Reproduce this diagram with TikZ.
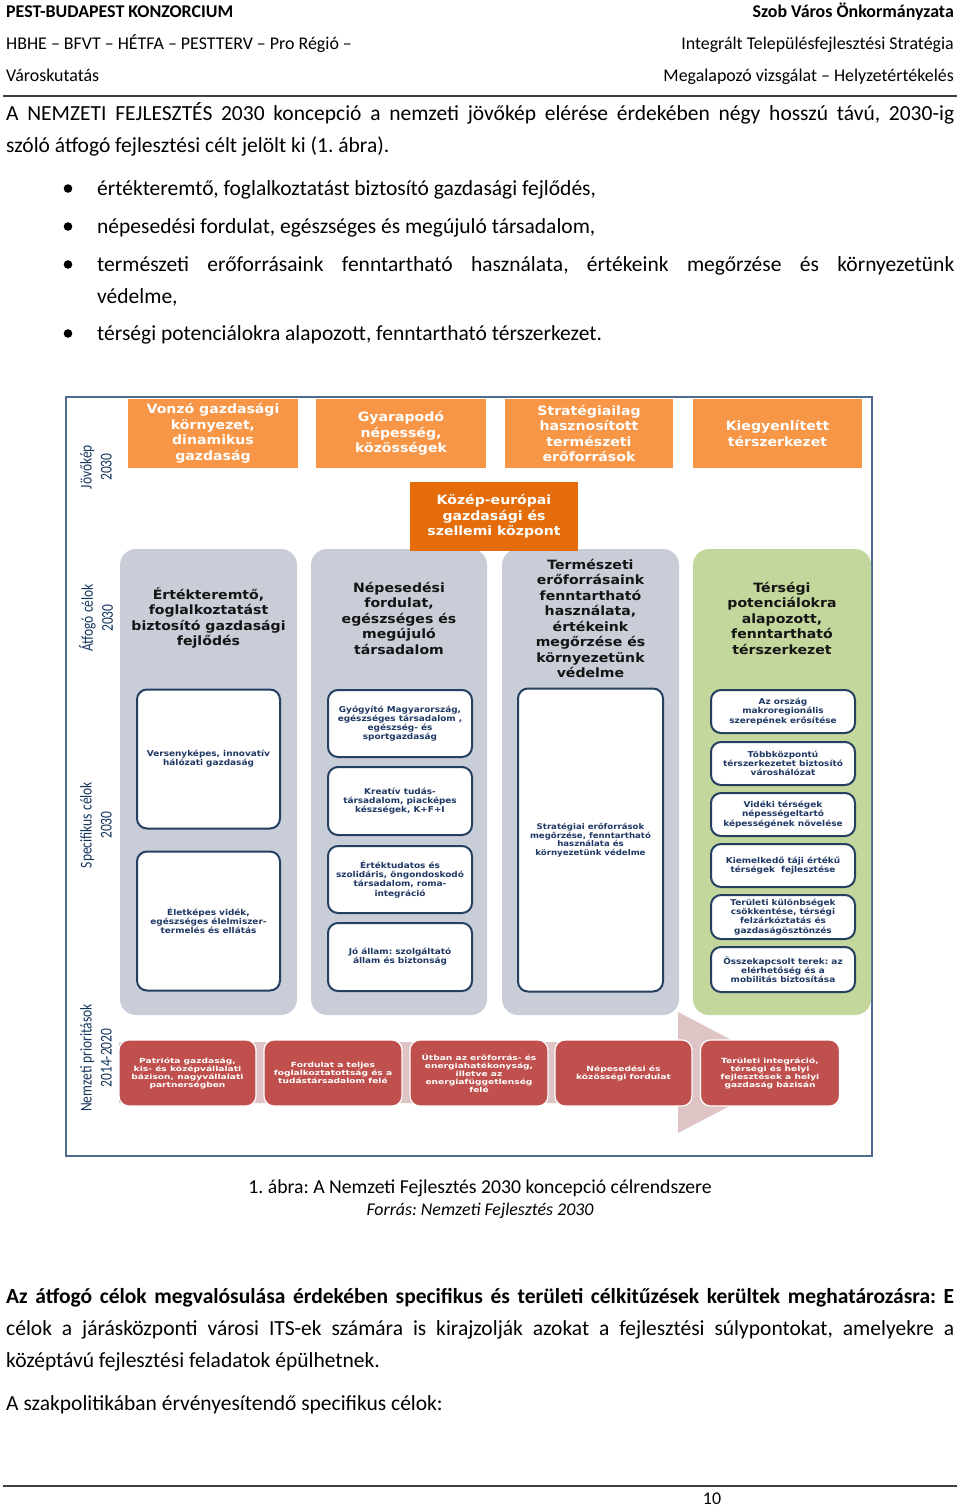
\documentclass[tikz,border=0pt]{standalone}
\usepackage{fontspec}
\setmainfont{Carlito}
\newfontfamily\dgf[FakeStretch=1.1]{DejaVu Sans}
\newfontfamily\dgr[FakeStretch=1.3]{DejaVu Sans}
\newfontfamily\lbf[FakeStretch=0.82]{Carlito}
\frenchspacing
\definecolor{orgc}{HTML}{F79646}
\definecolor{dorgc}{HTML}{E46C0A}
\definecolor{grayc}{HTML}{C8CDD8}
\definecolor{greenc}{HTML}{C3D69B}
\definecolor{redc}{HTML}{C0504D}
\definecolor{navyb}{HTML}{243F60}
\definecolor{navyt}{HTML}{1F3864}
\definecolor{lblc}{HTML}{17375E}
\definecolor{framec}{HTML}{4F6B8F}
\definecolor{arrowc}{HTML}{DEC4C5}
\definecolor{rulec}{HTML}{404040}
\tikzset{
  body/.style={anchor=base west, inner sep=0pt, font=\frenchspacing\fontsize{21.5}{26}\selectfont},
  hdr/.style={anchor=base west, inner sep=0pt, font=\frenchspacing\fontsize{17.9}{21}\selectfont},
  hdrr/.style={anchor=base east, inner sep=0pt, font=\frenchspacing\fontsize{17.9}{21}\selectfont},
  obox/.style={fill=orgc, text=white, align=center, inner sep=0pt, font=\dgf\bfseries\fontsize{12.8}{15.5}\selectfont},
  colbg/.style={fill=grayc, rounded corners=16pt, inner sep=0pt},
  colhead/.style={align=center, inner sep=0pt, text=black!92, font=\dgf\bfseries\fontsize{12.8}{15.5}\selectfont},
  wbox/.style={fill=white, draw=navyb, line width=2pt, rounded corners=10pt, align=center, inner sep=0pt, text=navyt, font=\frenchspacing\dgf\bfseries\fontsize{8.1}{9.2}\selectfont},
  rbox/.style={fill=redc, draw=white, line width=1.2pt, rounded corners=10pt, text=white, align=center, inner sep=0pt, font=\dgr\bfseries\fontsize{7}{8}\selectfont},
  lbl/.style={rotate=90, align=center, inner sep=0pt, text=lblc, font=\lbf\fontsize{16.5}{20}\selectfont},
}
\begin{document}
\begin{tikzpicture}[x=1pt,y=-1pt]
\useasboundingbox (0,0) rectangle (960,1508);
\fill[white] (0,0) rectangle (960,1508);
% header
\node[hdr] (hl1) at (6,17.5) {\bfseries PEST-BUDAPEST KONZORCIUM};
\node[hdr] (hl2) at (6,49.5) {HBHE – BFVT – HÉTFA – PESTTERV – Pro Régió –};
\node[hdr] (hl3) at (6,81.5) {Városkutatás};
\node[hdrr] (hr1) at (954,17.5) {\bfseries Szob Város Önkormányzata};
\node[hdrr] (hr2) at (954,49.5) {Integrált Településfejlesztési Stratégia};
\node[hdrr] (hr3) at (954,81.5) {Megalapozó vizsgálat – Helyzetértékelés};
\draw[rulec, line width=2pt] (3,96) -- (957,96);
% paragraph
\node[body] (t1) at (6,120) {\hbox to 948pt{A NEMZETI FEJLESZTÉS 2030 koncepció a nemzeti jövőkép elérése érdekében négy hosszú távú, 2030-ig}};
\node[body] (t2) at (6,152) {szóló átfogó fejlesztési célt jelölt ki (1. ábra).};
\fill (68,188.5) circle (4.3pt);
\fill (68,226.5) circle (4.3pt);
\fill (68,264.5) circle (4.3pt);
\fill (68,333.5) circle (4.3pt);
\node[body] (b1) at (97,195) {értékteremtő, foglalkoztatást biztosító gazdasági fejlődés,};
\node[body] (b2) at (97,233) {népesedési fordulat, egészséges és megújuló társadalom,};
\node[body] (b3) at (97,271) {\hbox to 857pt{természeti erőforrásaink fenntartható használata, értékeink megőrzése és környezetünk}};
\node[body] (b3b) at (97,303) {védelme,};
\node[body] (b4) at (97,340) {térségi potenciálokra alapozott, fenntartható térszerkezet.};
% figure frame
\draw[framec, line width=1.5pt] (66,397) rectangle (872,1156);
% top orange boxes
\node[obox, minimum width=170, minimum height=69] (o1) at (213,433.5) {Vonzó gazdasági\\környezet,\\dinamikus\\gazdaság};
\node[obox, minimum width=170, minimum height=69] (o2) at (401,433.5) {Gyarapodó\\népesség,\\közösségek};
\node[obox, minimum width=168, minimum height=69] (o3) at (589,433.5) {Stratégiailag\\hasznosított\\természeti\\erőforrások};
\node[obox, minimum width=169, minimum height=69] (o4) at (777.5,433.5) {Kiegyenlített\\térszerkezet};
% columns
\node[colbg, minimum width=177, minimum height=466] (c1) at (208.5,782) {};
\node[colbg, minimum width=176, minimum height=466] (c2) at (399,782) {};
\node[colbg, minimum width=177, minimum height=466] (c3) at (590.5,782) {};
\node[colbg, fill=greenc, minimum width=178, minimum height=466] (c4) at (782,782) {};
\node[obox, fill=dorgc, minimum width=168, minimum height=69] (ctr) at (494,516.5) {Közép-európai\\gazdasági és\\szellemi központ};
\node[colhead] (h1) at (208.5,618) {Értékteremtő,\\foglalkoztatást\\biztosító gazdasági\\fejlődés};
\node[colhead] (h2) at (399,618) {Népesedési\\fordulat,\\egészséges és\\megújuló\\társadalom};
\node[colhead] (h3) at (590.5,618.5) {Természeti\\erőforrásaink\\fenntartható\\használata,\\értékeink\\megőrzése és\\környezetünk\\védelme};
\node[colhead] (h4) at (782,618) {Térségi\\potenciálokra\\alapozott,\\fenntartható\\térszerkezet};
% white boxes col 1
\node[wbox, minimum width=143, minimum height=139] (w11) at (208.5,759) {Versenyképes, innovatív\\hálózati gazdaság};
\node[wbox, minimum width=143, minimum height=139] (w12) at (208.5,921) {Életképes vidék,\\egészséges élelmiszer-\\termelés és ellátás};
% col 2
\node[wbox, minimum width=144, minimum height=67] (w21) at (400,723.5) {Gyógyító Magyarország,\\egészséges társadalom ,\\egészség- és\\sportgazdaság};
\node[wbox, minimum width=144, minimum height=68] (w22) at (400,801) {Kreatív tudás-\\társadalom, piacképes\\készségek, K+F+I};
\node[wbox, minimum width=144, minimum height=67] (w23) at (400,879.5) {Értéktudatos és\\szolidáris, öngondoskodó\\társadalom, roma-\\integráció};
\node[wbox, minimum width=144, minimum height=68] (w24) at (400,957) {Jó állam: szolgáltató\\állam és biztonság};
% col 3
\node[wbox, minimum width=145, minimum height=303, font=\dgf\bfseries\fontsize{7.8}{8.5}\selectfont] (w31) at (590.5,840) {Stratégiai erőforrások\\megőrzése, fenntartható\\használata és\\környezetünk védelme};
% col 4
\node[wbox, minimum width=144, minimum height=43] (w41) at (783,711.5) {Az ország\\makroregionális\\szerepének erősítése};
\node[wbox, minimum width=144, minimum height=43] (w42) at (783,763.5) {Többközpontú\\térszerkezetet biztosító\\városhálózat};
\node[wbox, minimum width=144, minimum height=43] (w43) at (783,814.5) {Vidéki térségek\\népességeltartó\\képességének növelése};
\node[wbox, minimum width=144, minimum height=43] (w44) at (783,865.5) {Kiemelkedő táji értékű\\térségek\ \ fejlesztése};
\node[wbox, minimum width=144, minimum height=44] (w45) at (783,917) {Területi különbségek\\csökkentése, térségi\\felzárkóztatás és\\gazdaságösztönzés};
\node[wbox, minimum width=144, minimum height=45] (w46) at (783,969.5) {Összekapcsolt terek: az\\elérhetőség és a\\mobilitás biztosítása};
% arrow
\fill[arrowc] (119,1042) -- (678,1042) -- (678,1012) -- (794,1072.5) -- (678,1133) -- (678,1103) -- (119,1103) -- cycle;
% red boxes
\node[rbox, minimum width=137, minimum height=66] (r1) at (187.5,1073) {Patrióta gazdaság,\\kis- és középvállalati\\bázison, nagyvállalati\\partnerségben};
\node[rbox, minimum width=138, minimum height=66] (r2) at (333,1073) {Fordulat a teljes\\foglalkoztatottság és a\\tudástársadalom felé};
\node[rbox, minimum width=138, minimum height=66] (r3) at (479,1073) {Útban az erőforrás- és\\energiahatékonyság,\\illetve az\\energiafüggetlenség\\felé};
\node[rbox, minimum width=137, minimum height=66] (r4) at (623.5,1073) {Népesedési és\\közösségi fordulat};
\node[rbox, minimum width=139, minimum height=66] (r5) at (770,1073) {Területi integráció,\\térségi és helyi\\fejlesztések a helyi\\gazdaság bázisán};
% labels
\node[lbl] (L1) at (96,467) {Jövőkép\\2030};
\node[lbl] (L2) at (96,618) {Átfogó célok\\2030};
\node[lbl] (L3) at (96,825) {Specifikus célok\\2030};
\node[lbl] (L4) at (96,1058) {Nemzeti prioritások\\2014-2020};
% caption
\node[body, anchor=base, font=\frenchspacing\fontsize{19.7}{24}\selectfont] (cap1) at (480,1193) {1. ábra: A Nemzeti Fejlesztés 2030 koncepció célrendszere};
\node[hdr, anchor=base] (cap2) at (480,1215) {\itshape Forrás: Nemzeti Fejlesztés 2030};
% paragraph 2
\node[body] (q1) at (6,1303) {\hbox to 948pt{\bfseries Az átfogó célok megvalósulása érdekében specifikus és területi célkitűzések kerültek meghatározásra: E}};
\node[body] (q2) at (6,1335) {\hbox to 948pt{célok a járásközponti városi ITS-ek számára is kirajzolják azokat a fejlesztési súlypontokat, amelyekre a}};
\node[body] (q3) at (6,1367) {középtávú fejlesztési feladatok épülhetnek.};
\node[body] (q4) at (6,1410) {A szakpolitikában érvényesítendő specifikus célok:};
% footer
\draw[rulec, line width=1.5pt] (3,1486) -- (957,1486);
\node[hdr, anchor=base] (pg) at (712,1504) {10};
\end{tikzpicture}
\end{document}
